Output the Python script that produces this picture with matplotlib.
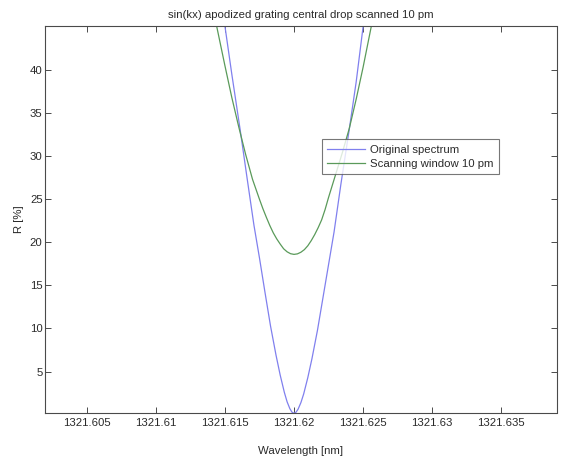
import matplotlib
matplotlib.use('Agg')
import matplotlib.pyplot as plt

# Centre wavelength of the drop [nm]
center_nm = 1321.620

# Original spectrum: offsets from centre [nm] and reflectance [%]
orig_dx = [-0.0068, -0.0058, -0.0050, -0.0045, -0.0039, -0.0034, -0.0029, -0.0025,
           -0.0021, -0.0017, -0.0013, -0.0010, -0.0007, -0.0005, -0.0003, -0.00015, 0.0,
           0.00015, 0.0003, 0.0005, 0.0007, 0.0010, 0.0013, 0.0017, 0.0021, 0.0025,
           0.0029, 0.0034, 0.0040, 0.0045, 0.0050, 0.0058, 0.0068]
orig_R = [64.0, 54.0, 45.1, 39.5, 33.1, 27.5, 22.0, 18.2,
          14.2, 10.3, 6.9, 4.6, 2.6, 1.5, 0.7, 0.3, 0.16,
          0.29, 0.65, 1.4, 2.4, 4.3, 6.5, 9.8, 13.6, 17.4,
          21.2, 26.8, 33.1, 38.6, 45.0, 53.5, 63.0]

# Scanning window 10 pm: offsets [nm] and reflectance [%]
scan_dx = [-0.0068, -0.0062, -0.0056, -0.0050, -0.0045, -0.0040, -0.0035, -0.0030,
           -0.0025, -0.00225, -0.0020, -0.00175, -0.0015, -0.00125, -0.0010, -0.00075,
           -0.0005, -0.00025, 0.0,
           0.00025, 0.0005, 0.00075, 0.0010, 0.00125, 0.0015, 0.00175, 0.0020, 0.00225,
           0.0025, 0.0030, 0.0035, 0.0040, 0.0045, 0.0050, 0.0056, 0.0062, 0.0068]
scan_R = [58.0, 51.5, 45.1, 40.5, 36.8, 33.4, 30.2, 27.3,
          25.0, 23.9, 22.9, 21.95, 21.1, 20.4, 19.8, 19.25,
          18.9, 18.68, 18.6,
          18.66, 18.85, 19.15, 19.6, 20.2, 20.9, 21.7, 22.6, 23.8,
          25.2, 27.8, 30.4, 33.2, 36.6, 40.3, 45.1, 51.0, 57.5]

xtick_vals = [1321.605, 1321.610, 1321.615, 1321.620, 1321.625, 1321.630, 1321.635]
xtick_labels = ['1321.605', '1321.61', '1321.615', '1321.62', '1321.625', '1321.63', '1321.635']
ytick_vals = [5, 10, 15, 20, 25, 30, 35, 40]
ytick_labels = ['5', '10', '15', '20', '25', '30', '35', '40']

legend_labels = ['Original spectrum', 'Scanning window 10 pm']
title_text = 'sin(kx) apodized grating central drop scanned 10 pm'

plt.rcParams['font.family'] = ['Liberation Sans', 'DejaVu Sans']
FS = 8.2
TXT = '#2a2a2a'

W, H = 561, 459
L, R, T, B = 45.3, 556.5, 26.0, 413.3
fig = plt.figure(figsize=(W / 100, H / 100), dpi=100)
fig.patch.set_facecolor('white')
ax = fig.add_axes([L / W, 1 - B / H, (R - L) / W, (B - T) / H])

orig_x = [center_nm + d for d in orig_dx]
scan_x = [center_nm + d for d in scan_dx]

ax.plot(orig_x, orig_R, color='#8080ee', lw=0.9, label=legend_labels[0])
ax.plot(scan_x, scan_R, color='#5a9a5a', lw=0.9, label=legend_labels[1])

ax.set_xlim(1321.602, 1321.639)
ax.set_ylim(0.16, 45.1)
ax.set_xticks(xtick_vals, xtick_labels)
ax.set_yticks(ytick_vals, ytick_labels)

frame_col = '#4a4a4a'
for s in ax.spines.values():
    s.set_color(frame_col)
    s.set_linewidth(0.8)
ax.tick_params(direction='in', top=True, right=True, length=4, width=0.7,
               color=frame_col, labelcolor=TXT, labelsize=FS)
ax.tick_params(axis='x', pad=3.5)
ax.tick_params(axis='y', pad=2.0)

ax.set_title(title_text, fontsize=FS, color=TXT, y=1 + (T - 15.5) / (B - T),
             va='center', pad=0)
ax.set_xlabel('Wavelength [nm]', fontsize=FS, color=TXT)
ax.xaxis.set_label_coords(0.5, -(450.5 - B) / (B - T))
ax.xaxis.label.set_va('center')
ax.set_ylabel('R [%]', fontsize=FS, color=TXT)
ax.yaxis.set_label_coords(-(L - 19.5) / (R - L), 0.5)
ax.yaxis.label.set_va('center')

leg = ax.legend(loc='upper left', bbox_to_anchor=(321.7 / W, 1 - 139.3 / H),
                bbox_transform=fig.transFigure, borderaxespad=0, fontsize=FS,
                fancybox=False, frameon=True, handlelength=3.3, handletextpad=0.4,
                borderpad=0.5, labelspacing=0.32)
leg.get_frame().set_edgecolor('#555555')
leg.get_frame().set_linewidth(0.8)
for t in leg.get_texts():
    t.set_color(TXT)

fig.savefig('out.png', dpi=100, facecolor='white')
